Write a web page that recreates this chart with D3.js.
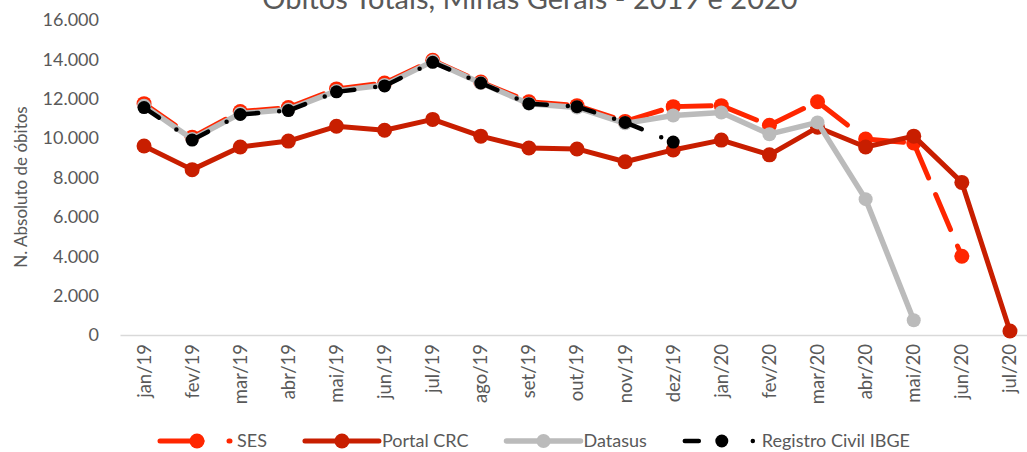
<!DOCTYPE html>
<html>
<head>
<meta charset="utf-8">
<script src="https://cdn.jsdelivr.net/npm/d3@7"></script>
<style>
	body { margin: 0; background: #fff; }
	svg text { font-family: Lato, "Open Sans", sans-serif; fill: #595959; }
</style>
</head>
<body>
<div id="chart"></div>
<script>
'use strict';

// data
const categories = ['jan/19','fev/19','mar/19','abr/19','mai/19','jun/19','jul/19','ago/19','set/19','out/19','nov/19','dez/19',
	'jan/20','fev/20','mar/20','abr/20','mai/20','jun/20','jul/20'];
const ses = [11750, 10050, 11350, 11550, 12500, 12800, 13950, 12850, 11850, 11650, 10850, 11600,
	11650, 10650, 11850, 9950, 9750, 4000, null];
const portalCrc = [9600, 8400, 9550, 9850, 10600, 10400, 10950, 10100, 9500, 9450, 8800, 9400,
	9900, 9150, 10550, 9550, 10100, 7750, 200];
const datasus = [11650, 9950, 11250, 11450, 12400, 12700, 13900, 12800, 11750, 11550, 10750, 11150,
	11300, 10200, 10800, 6900, 750, null, null];
const registroCivil = [11550, 9900, 11200, 11400, 12350, 12650, 13850, 12800, 11750, 11600, 10800, 9800,
	null, null, null, null, null, null, null];
const yTicks = [0, 2000, 4000, 6000, 8000, 10000, 12000, 14000, 16000];
const titleText = 'Óbitos Totais, Minas Gerais - 2019 e 2020';
const yTitle = 'N. Absoluto de óbitos';

const width = 1027, height = 452;
const margin = {top: 20, right: -7, bottom: 117, left: 120};

const series = [
	{name: 'SES', values: ses, color: '#ff2600', width: 5, r: 7.5, dash: '38,18', legendDash: '42,27'},
	{name: 'Portal CRC', values: portalCrc, color: '#c81e00', width: 5, r: 7.5, dash: null, legendDash: null},
	{name: 'Datasus', values: datasus, color: '#bbbbbb', width: 5.5, r: 7, dash: null, legendDash: null},
	{name: 'Registro Civil IBGE', values: registroCivil, color: '#000000', width: 4.5, r: 6.5, dash: '18,21,0,21', legendDash: '14,54,0,20'}
];

var svg = d3.select('#chart').append('svg')
	.attr('width', width)
	.attr('height', height);

var x = d3.scaleBand()
	.domain(categories)
	.range([margin.left, width - margin.right]);
var y = d3.scaleLinear()
	.domain([0, 16000])
	.range([height - margin.bottom, margin.top]);

function cx(c) { return x(c) + x.bandwidth() / 2; }

// title (its top is cut off in the original too)
svg.append('text')
	.attr('x', 530)
	.attr('y', 9)
	.style('text-anchor', 'middle')
	.style('font-size', '29px')
	.text(titleText);

// y axis
var yAxis = svg.append('g')
	.attr('transform', 'translate(' + margin.left + ',0)')
	.call(d3.axisLeft(y).tickValues(yTicks).tickSize(0).tickPadding(21)
		.tickFormat(function(d){ return d3.format(',')(d).replace(/,/g, '.'); }));
yAxis.select('.domain').remove();
yAxis.selectAll('text')
	.style('font-size', '18px')
	.style('font-family', 'Lato, sans-serif')
	.attr('fill', '#595959');

svg.append('text')
	.attr('transform', 'translate(27,187) rotate(-90)')
	.style('text-anchor', 'middle')
	.style('font-size', '17px')
	.text(yTitle);

// x axis
var xAxis = svg.append('g')
	.attr('transform', 'translate(0,' + y(0) + ')')
	.call(d3.axisBottom(x).tickSize(0));
xAxis.select('.domain')
	.attr('stroke', '#d9d9d9')
	.attr('stroke-width', 1.5);
xAxis.selectAll('text')
	.attr('transform', 'rotate(-90)')
	.attr('x', -9)
	.attr('y', 0)
	.attr('dy', '0.35em')
	.style('text-anchor', 'end')
	.style('font-size', '18.5px')
	.style('font-family', 'Lato, sans-serif')
	.attr('fill', '#595959');

var line = d3.line()
	.x(function(d){ return cx(d.c); })
	.y(function(d){ return y(d.v); });

// lines, one segment at a time so the dash pattern restarts at each point (as Excel does)
series.forEach(function(s){
	var pts = categories.map(function(c, i){ return {c: c, v: s.values[i]}; });
	var g = svg.append('g').attr('class', 'series');
	for (var i = 0; i < pts.length - 1; i++) {
		if (pts[i].v == null || pts[i + 1].v == null) continue;
		g.append('path')
			.attr('d', line([pts[i], pts[i + 1]]))
			.attr('fill', 'none')
			.attr('stroke', s.color)
			.attr('stroke-width', s.width)
			.attr('stroke-linecap', 'round')
			.attr('stroke-dasharray', s.dash);
	}
	g.selectAll('circle')
		.data(pts.filter(function(d){ return d.v != null; }))
		.enter().append('circle')
		.attr('cx', function(d){ return cx(d.c); })
		.attr('cy', function(d){ return y(d.v); })
		.attr('r', s.r)
		.attr('fill', s.color);
});

// legend
var legend = svg.append('g').attr('transform', 'translate(0,441)');
var lx = 160;
series.forEach(function(s){
	var item = legend.append('g').attr('transform', 'translate(' + lx + ',0)');
	item.append('line')
		.attr('x1', 0).attr('x2', s.legendDash ? 70 : 74)
		.attr('stroke', s.color)
		.attr('stroke-width', s.width)
		.attr('stroke-linecap', 'round')
		.attr('stroke-dasharray', s.legendDash);
	item.append('circle')
		.attr('cx', 37)
		.attr('r', s.r)
		.attr('fill', s.color);
	var t = item.append('text')
		.attr('x', 77)
		.attr('dy', '0.35em')
		.style('font-size', '18px')
		.text(s.name);
	lx += 77 + t.node().getComputedTextLength() + 38;
});
</script>
</body>
</html>
